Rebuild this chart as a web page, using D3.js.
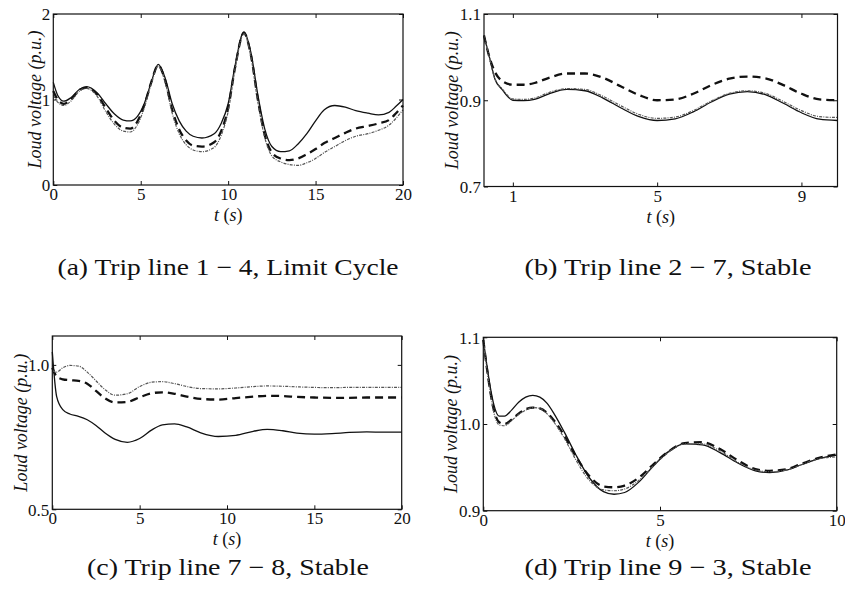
<!DOCTYPE html>
<html>
<head>
<meta charset="utf-8">
<script src="https://cdn.jsdelivr.net/npm/d3@7/dist/d3.min.js"></script>
<style>
  html, body { margin: 0; padding: 0; background: #fff; }
  svg { display: block; }
</style>
</head>
<body>
<svg id="chart" width="845" height="594"></svg>
<script>
// ---- Data: load voltage (p.u.) after each line trip, three responses per case ----

// (a) Trip line 1-4
const timeA = [0, 0.25, 0.6, 1, 1.5, 1.9, 2.5, 3, 3.5, 4, 4.4, 4.8, 5.2, 5.6, 6.0, 6.4, 6.8, 7.2, 7.6, 8, 8.5, 9.2, 9.6, 10, 10.4, 10.9, 11.3, 11.7, 12.1, 12.5, 13, 13.5, 14, 14.5, 15, 15.5, 16.1, 16.7, 17.3, 18, 18.6, 19.2, 19.6, 20];
const solidA = [1.20, 1.05, 0.98, 1.02, 1.12, 1.15, 1.08, 0.95, 0.83, 0.76, 0.75, 0.80, 0.95, 1.20, 1.41, 1.25, 0.95, 0.75, 0.63, 0.57, 0.55, 0.60, 0.72, 0.95, 1.40, 1.79, 1.55, 1.05, 0.65, 0.45, 0.39, 0.40, 0.48, 0.60, 0.75, 0.88, 0.93, 0.91, 0.87, 0.84, 0.82, 0.85, 0.92, 1.00];
const dashA = [1.10, 1.00, 0.95, 1.00, 1.11, 1.14, 1.06, 0.90, 0.75, 0.67, 0.66, 0.74, 0.93, 1.20, 1.40, 1.22, 0.88, 0.65, 0.52, 0.46, 0.45, 0.50, 0.63, 0.90, 1.38, 1.78, 1.52, 1.00, 0.58, 0.38, 0.31, 0.29, 0.31, 0.36, 0.42, 0.49, 0.55, 0.61, 0.66, 0.69, 0.72, 0.76, 0.84, 0.93];
const dotA = [1.05, 0.97, 0.93, 0.98, 1.10, 1.13, 1.04, 0.86, 0.71, 0.63, 0.62, 0.70, 0.90, 1.18, 1.39, 1.20, 0.84, 0.60, 0.47, 0.41, 0.39, 0.44, 0.58, 0.86, 1.36, 1.77, 1.50, 0.97, 0.55, 0.34, 0.27, 0.24, 0.23, 0.26, 0.31, 0.38, 0.45, 0.52, 0.57, 0.60, 0.64, 0.70, 0.78, 0.88];

// (b) Trip line 2-7
const timeB = [0.2, 0.35, 0.5, 0.7, 1.0, 1.3, 1.6, 2.0, 2.5, 3.0, 3.5, 4.0, 4.5, 5.0, 5.5, 6.0, 6.5, 7.0, 7.5, 8.0, 8.5, 9.0, 9.5, 10.0];
const solidB = [1.05, 1.00, 0.95, 0.925, 0.900, 0.899, 0.902, 0.915, 0.925, 0.922, 0.905, 0.882, 0.862, 0.853, 0.857, 0.873, 0.896, 0.914, 0.920, 0.913, 0.893, 0.871, 0.856, 0.853];
const dashB = [1.05, 1.00, 0.966, 0.945, 0.936, 0.936, 0.940, 0.952, 0.962, 0.962, 0.952, 0.932, 0.912, 0.900, 0.902, 0.915, 0.935, 0.950, 0.955, 0.951, 0.935, 0.915, 0.902, 0.900];
const dotB = [1.05, 1.00, 0.95, 0.927, 0.903, 0.902, 0.905, 0.918, 0.927, 0.925, 0.909, 0.887, 0.867, 0.858, 0.861, 0.876, 0.898, 0.916, 0.922, 0.916, 0.897, 0.876, 0.862, 0.860];

// (c) Trip line 7-8
const timeC = [0, 0.25, 0.6, 1.0, 1.5, 2.0, 2.5, 3.0, 3.6, 4.3, 5.0, 5.7, 6.3, 7.0, 7.7, 8.5, 9.5, 10.5, 11.5, 12.3, 13.2, 14.0, 15.0, 16.0, 17.0, 18.0, 19.0, 20.0];
const solidC = [1.045, 0.89, 0.845, 0.83, 0.822, 0.81, 0.79, 0.765, 0.742, 0.732, 0.745, 0.775, 0.792, 0.796, 0.785, 0.765, 0.752, 0.756, 0.770, 0.777, 0.772, 0.764, 0.760, 0.762, 0.766, 0.768, 0.767, 0.767];
const dashC = [0.99, 0.96, 0.95, 0.947, 0.945, 0.935, 0.91, 0.885, 0.87, 0.872, 0.888, 0.902, 0.905, 0.90, 0.89, 0.882, 0.88, 0.885, 0.89, 0.893, 0.892, 0.889, 0.887, 0.886, 0.886, 0.887, 0.887, 0.887];
const dotC = [0.98, 0.975, 0.99, 0.998, 0.996, 0.975, 0.945, 0.915, 0.895, 0.90, 0.925, 0.94, 0.942, 0.935, 0.925, 0.918, 0.917, 0.92, 0.925, 0.927, 0.926, 0.924, 0.922, 0.921, 0.922, 0.922, 0.922, 0.922];

// (d) Trip line 9-3
const timeD = [0, 0.1, 0.2, 0.3, 0.45, 0.6, 0.8, 1.0, 1.2, 1.4, 1.6, 1.8, 2.0, 2.3, 2.6, 3.0, 3.4, 3.7, 4.0, 4.4, 4.8, 5.2, 5.7, 6.2, 6.7, 7.2, 7.7, 8.1, 8.6, 9.0, 9.5, 10];
const solidD = [1.097, 1.068, 1.042, 1.022, 1.009, 1.009, 1.016, 1.025, 1.031, 1.033, 1.031, 1.024, 1.012, 0.990, 0.966, 0.938, 0.922, 0.919, 0.921, 0.933, 0.951, 0.967, 0.977, 0.976, 0.967, 0.955, 0.946, 0.944, 0.947, 0.953, 0.960, 0.964];
const dashD = [1.097, 1.065, 1.037, 1.016, 1.002, 1.000, 1.005, 1.012, 1.017, 1.019, 1.018, 1.013, 1.004, 0.986, 0.964, 0.940, 0.928, 0.927, 0.929, 0.938, 0.953, 0.967, 0.978, 0.979, 0.971, 0.958, 0.948, 0.946, 0.948, 0.954, 0.961, 0.965];
const dotD = [1.097, 1.064, 1.035, 1.013, 0.999, 0.998, 1.004, 1.011, 1.016, 1.019, 1.018, 1.012, 1.002, 0.983, 0.960, 0.935, 0.924, 0.923, 0.925, 0.935, 0.951, 0.966, 0.977, 0.977, 0.969, 0.956, 0.947, 0.945, 0.947, 0.953, 0.960, 0.962];

// Axis ticks and captions
const xTicksA = [0, 5, 10, 15, 20];
const yTicksA = [0, 1, 2];
const xTicksB = [1, 5, 9];
const yTicksB = [0.7, 0.9, 1.1];
const xTicksC = [0, 5, 10, 15, 20];
const yTicksC = [0.5, 1.0];
const xTicksD = [0, 5, 10];
const yTicksD = [0.9, 1.0, 1.1];
const captions = ["(a) Trip line 1 \u2212 4, Limit Cycle", "(b) Trip line 2 \u2212 7, Stable", "(c) Trip line 7 \u2212 8, Stable", "(d) Trip line 9 \u2212 3, Stable"];

// ---- Layout of the four panels ----
const serif = "'Liberation Serif', 'Times New Roman', serif";
const panels = [
  { box: [53.3, 14, 403, 185], xDom: [0, 20], yDom: [0, 2], xT: xTicksA, yT: yTicksA, yFmt: d3.format("d"), t: timeA, s: [solidA, dashA, dotA], yTitleOff: 19, cap: captions[0], capX: 228, capY: 275, capW: 341 },
  { box: [484, 14, 837.5, 186.5], xDom: [0.2, 10], yDom: [0.7, 1.1], xT: xTicksB, yT: yTicksB, yFmt: d3.format(".1f"), t: timeB, s: [solidB, dashB, dotB], yTitleOff: 32, cap: captions[1], capX: 668, capY: 275, capW: 287 },
  { box: [52.3, 336, 401.7, 509.3], xDom: [0, 20], yDom: [0.5, 1.1], xT: xTicksC, yT: yTicksC, yFmt: d3.format(".1f"), t: timeC, s: [solidC, dashC, dotC], yTitleOff: 32, cap: captions[2], capX: 228, capY: 575, capW: 282 },
  { box: [483.3, 337.3, 836.7, 510.7], xDom: [0, 10], yDom: [0.9, 1.1], xT: xTicksD, yT: yTicksD, yFmt: d3.format(".1f"), t: timeD, s: [solidD, dashD, dotD], yTitleOff: 33, cap: captions[3], capX: 668, capY: 575, capW: 287 }
];

const styles = [
  { stroke: "#111", width: 1.3, dash: null },
  { stroke: "#111", width: 2.3, dash: "8,5" },
  { stroke: "#555", width: 1.2, dash: "3,1.2,1,1.2" }
];

const svg = d3.select("#chart");
const tickLen = 4;

panels.forEach(p => {
  const [x0, y0, x1, y1] = p.box;
  const x = d3.scaleLinear().domain(p.xDom).range([x0, x1]);
  const y = d3.scaleLinear().domain(p.yDom).range([y1, y0]);
  const g = svg.append("g");

  // curves
  const line = d3.line().x(d => x(d[0])).y(d => y(d[1])).curve(d3.curveMonotoneX);
  p.s.forEach((vals, i) => {
    const pts = p.t.map((tv, k) => [tv, vals[k]]);
    g.append("path")
      .attr("d", line(pts))
      .attr("fill", "none")
      .attr("stroke", styles[i].stroke)
      .attr("stroke-width", styles[i].width)
      .attr("stroke-dasharray", styles[i].dash)
      .attr("stroke-linejoin", "round");
  });

  // inward ticks on all four sides
  const bottomAxis = d3.axisBottom(x).tickValues(p.xT).tickSize(-tickLen).tickPadding(3).tickFormat(d3.format("d"));
  const topAxis = d3.axisTop(x).tickValues(p.xT).tickSize(-tickLen).tickFormat("");
  const leftAxis = d3.axisLeft(y).tickValues(p.yT).tickSize(-tickLen).tickPadding(3).tickFormat(p.yFmt);
  const rightAxis = d3.axisRight(y).tickValues(p.yT).tickSize(-tickLen).tickFormat("");

  const gb = g.append("g").attr("transform", `translate(0,${y1})`).call(bottomAxis);
  g.append("g").attr("transform", `translate(0,${y0})`).call(topAxis);
  const gl = g.append("g").attr("transform", `translate(${x0},0)`).call(leftAxis);
  g.append("g").attr("transform", `translate(${x1},0)`).call(rightAxis);
  g.selectAll(".domain").remove();
  g.selectAll(".tick line").attr("stroke", "#111").attr("stroke-width", 1);
  g.selectAll(".tick text").style("font-family", serif).style("fill", "#111");
  gb.selectAll(".tick text").style("font-size", "17px");
  gl.selectAll(".tick text").style("font-size", "17px").attr("dy", "0.35em");

  // frame
  g.append("rect")
    .attr("x", x0).attr("y", y0)
    .attr("width", x1 - x0).attr("height", y1 - y0)
    .attr("fill", "none").attr("stroke", "#111").attr("stroke-width", 1.2);

  // axis titles
  const xt = g.append("text")
    .style("font-family", serif).style("font-size", "18px").style("fill", "#111")
    .attr("x", (x0 + x1) / 2).attr("y", y1 + 36).attr("text-anchor", "middle");
  xt.append("tspan").attr("font-style", "italic").text("t");
  xt.append("tspan").text(" (");
  xt.append("tspan").attr("font-style", "italic").text("s");
  xt.append("tspan").text(")");

  g.append("text")
    .style("font-family", serif).style("font-size", "18px").style("fill", "#111")
    .attr("font-style", "italic")
    .attr("transform", `translate(${x0 - p.yTitleOff},${(y0 + y1) / 2}) rotate(-90)`)
    .attr("text-anchor", "middle")
    .attr("dy", "0.35em")
    .text("Loud voltage (p.u.)");

  // caption
  svg.append("text")
    .style("font-family", serif).style("font-size", "23px").style("fill", "#111")
    .attr("x", p.capX).attr("y", p.capY).attr("text-anchor", "middle")
    .attr("textLength", p.capW).attr("lengthAdjust", "spacingAndGlyphs")
    .text(p.cap);
});
</script>
</body>
</html>
